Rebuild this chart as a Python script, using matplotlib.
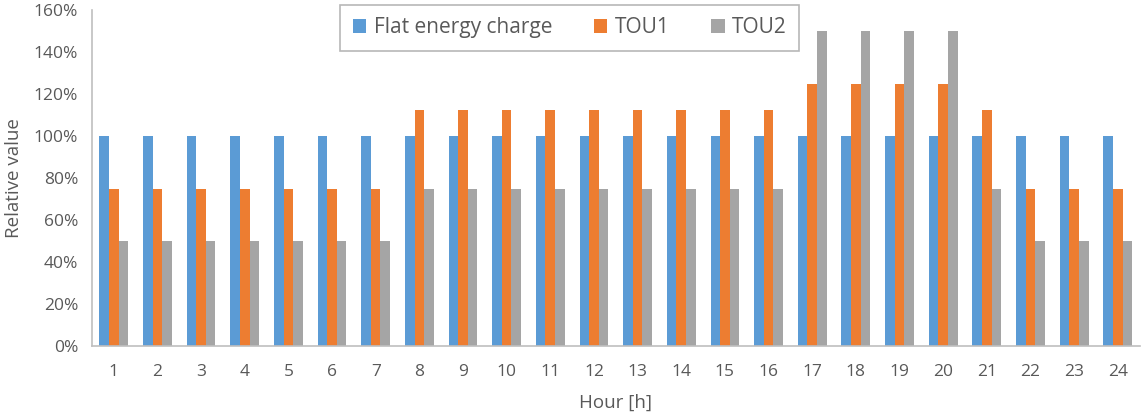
import numpy as np
import matplotlib
matplotlib.use('Agg')
import matplotlib.pyplot as plt
from matplotlib.ticker import PercentFormatter

hours = list(range(1, 25))
flat = [100] * 24
tou1 = [75] * 7 + [112.5] * 9 + [125] * 4 + [112.5] + [75] * 3
tou2 = [50] * 7 + [75] * 9 + [150] * 4 + [75] + [50] * 3

plt.rcParams['font.family'] = ['Open Sans', 'DejaVu Sans']
text_color = '#595959'

fig = plt.figure(figsize=(11.45, 4.16), dpi=100)
ax = fig.add_axes([0.0803, 0.168, 0.915, 0.808])

x = np.arange(len(hours)) + 1
w = 0.22
ax.bar(x - w, flat, w, color='#5B9BD5', label='Flat energy charge')
ax.bar(x, tou1, w, color='#ED7D31', label='TOU1')
ax.bar(x + w, tou2, w, color='#A5A5A5', label='TOU2')

ax.set_xlim(0.5, 24.5)
ax.set_ylim(0, 160)
ax.set_yticks(np.arange(0, 161, 20))
ax.yaxis.set_major_formatter(PercentFormatter(decimals=0))
ax.set_xticks(x)
ax.set_xticklabels([str(h) for h in hours])

for s in ['top', 'right']:
    ax.spines[s].set_visible(False)
for s in ['left', 'bottom']:
    ax.spines[s].set_color('#BFBFBF')
    ax.spines[s].set_linewidth(1.2)
ax.tick_params(length=0, labelsize=12.5, colors=text_color)
ax.tick_params(axis='x', pad=13)
ax.tick_params(axis='y', pad=10)

ax.set_xlabel('Hour [h]', fontsize=13.5, color=text_color, labelpad=10)
ax.set_ylabel('Relative value', fontsize=13.5, color=text_color, labelpad=8)

leg = ax.legend(loc='upper center', bbox_to_anchor=(0.456, 1.015), ncol=3,
                frameon=True, fancybox=False, fontsize=15,
                handlelength=0.65, handleheight=0.65, handletextpad=0.35,
                columnspacing=2.0, borderpad=0.6, borderaxespad=0)
leg.get_frame().set_edgecolor('#A6A6A6')
leg.get_frame().set_linewidth(1.2)
for t in leg.get_texts():
    t.set_color(text_color)

fig.savefig('out.png', dpi=100)
